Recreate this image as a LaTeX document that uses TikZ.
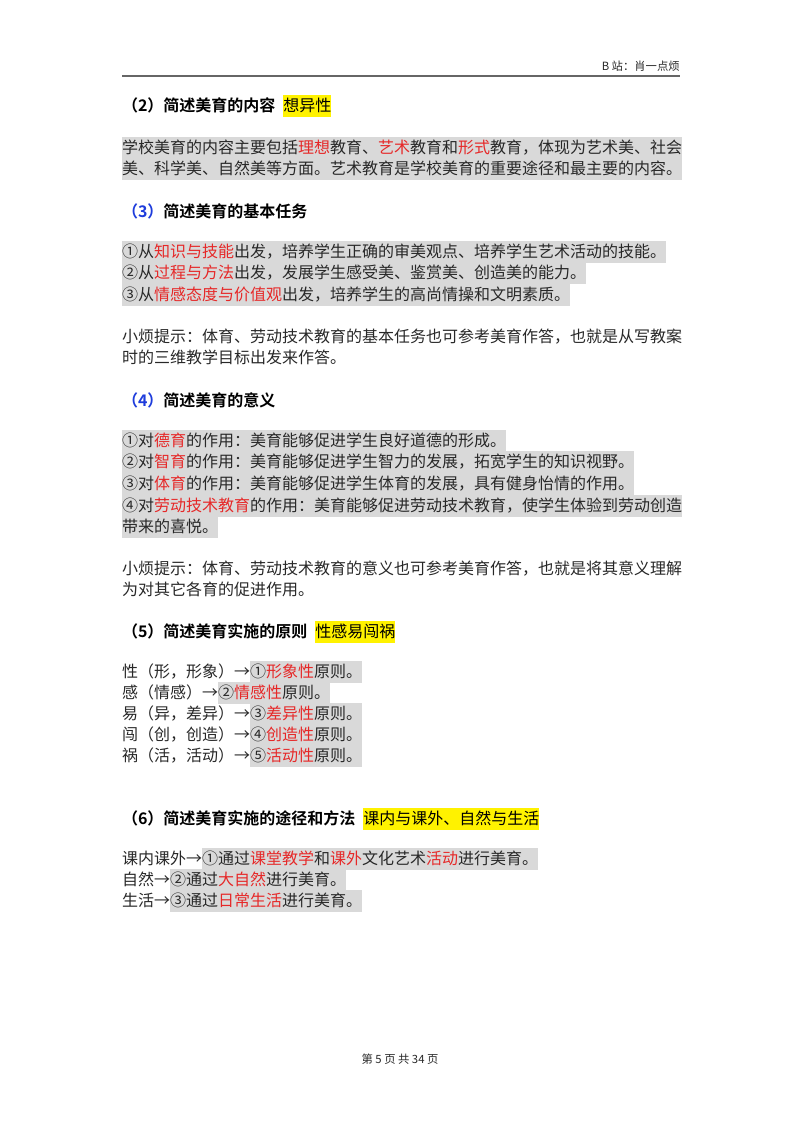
\documentclass[tikz,border=0pt]{standalone}
\usepackage{fontspec}
\setmainfont{Noto Sans CJK SC}[BoldFont={Noto Sans CJK SC Bold}]
\definecolor{hl}{RGB}{217,217,217}
\definecolor{rd}{RGB}{230,40,40}
\definecolor{bl}{RGB}{30,60,220}
\definecolor{txt}{RGB}{40,40,40}
\newcommand{\R}[1]{\textcolor{rd}{#1}}
\tikzset{
 ln/.style={anchor=west, inner xsep=0pt, inner ysep=1pt, outer sep=0pt, text height=11pt, text depth=3pt, font=\fontsize{12}{14}\selectfont, text=txt},
 gl/.style={ln, fill=hl},
 hd/.style={ln, font=\fontsize{12}{14}\selectfont\bfseries, text=black},
 yl/.style={ln, fill=yellow, font=\fontsize{12}{14}\selectfont, text=black},
 sm/.style={font=\fontsize{8.5}{10}\selectfont, text=txt, inner sep=0pt}
}
\begin{document}
\begin{tikzpicture}[x=0.75pt,y=-0.75pt]
\useasboundingbox[fill=white] (0,0) rectangle (800,1132);
\node[sm, anchor=east] (hdr) at (680,66) {B 站：肖一点烦};
\draw[gray!80!black, line width=1.2pt] (122,76) coordinate (r1) -- (680,76) coordinate (r2);
% (2)
\node[hd] (h2) at (122,106) {（2）简述美育的内容};
\node[yl] (y2) at ([xshift=6pt]h2.east) {想异性};
\node[gl] (p21) at (122,148) {学校美育的内容主要包括\R{理想}教育、\R{艺术}教育和\R{形式}教育，体现为艺术美、社会};
\node[gl] (p22) at (122,169) {美、科学美、自然美等方面。艺术教育是学校美育的重要途径和最主要的内容。};
% (3)
\node[hd] (h3) at (122,212) {\textcolor{bl}{（3）}简述美育的基本任务};
\node[gl] (p31) at (122,252) {①从\R{知识与技能}出发，培养学生正确的审美观点、培养学生艺术活动的技能。};
\node[gl] (p32) at (122,273) {②从\R{过程与方法}出发，发展学生感受美、鉴赏美、创造美的能力。};
\node[gl] (p33) at (122,295) {③从\R{情感态度与价值观}出发，培养学生的高尚情操和文明素质。};
\node[ln] (t31) at (122,337) {小烦提示：体育、劳动技术教育的基本任务也可参考美育作答，也就是从写教案};
\node[ln] (t32) at (122,358) {时的三维教学目标出发来作答。};
% (4)
\node[hd] (h4) at (122,401) {\textcolor{bl}{（4）}简述美育的意义};
\node[gl] (p41) at (122,441) {①对\R{德育}的作用：美育能够促进学生良好道德的形成。};
\node[gl] (p42) at (122,462) {②对\R{智育}的作用：美育能够促进学生智力的发展，拓宽学生的知识视野。};
\node[gl] (p43) at (122,484) {③对\R{体育}的作用：美育能够促进学生体育的发展，具有健身怡情的作用。};
\node[gl] (p44) at (122,506) {④对\R{劳动技术教育}的作用：美育能够促进劳动技术教育，使学生体验到劳动创造};
\node[gl] (p45) at (122,527) {带来的喜悦。};
\node[ln] (t41) at (122,569) {小烦提示：体育、劳动技术教育的意义也可参考美育作答，也就是将其意义理解};
\node[ln] (t42) at (122,590) {为对其它各育的促进作用。};
% (5)
\node[hd] (h5) at (122,632) {（5）简述美育实施的原则};
\node[yl] (y5) at ([xshift=6pt]h5.east) {性感易闯祸};
\node[ln] (a1) at (122,672) {性（形，形象）→};
\node[gl] (b1) at (a1.east) {①\R{形象性}原则。};
\node[ln] (a2) at (122,693) {感（情感）→};
\node[gl] (b2) at (a2.east) {②\R{情感性}原则。};
\node[ln] (a3) at (122,714) {易（异，差异）→};
\node[gl] (b3) at (a3.east) {③\R{差异性}原则。};
\node[ln] (a4) at (122,735) {闯（创，创造）→};
\node[gl] (b4) at (a4.east) {④\R{创造性}原则。};
\node[ln] (a5) at (122,756) {祸（活，活动）→};
\node[gl] (b5) at (a5.east) {⑤\R{活动性}原则。};
% (6)
\node[hd] (h6) at (122,819) {（6）简述美育实施的途径和方法};
\node[yl] (y6) at ([xshift=6pt]h6.east) {课内与课外、自然与生活};
\node[ln] (c1) at (122,859) {课内课外→};
\node[gl] (d1) at (c1.east) {①通过\R{课堂教学}和\R{课外}文化艺术\R{活动}进行美育。};
\node[ln] (c2) at (122,880) {自然→};
\node[gl] (d2) at (c2.east) {②通过\R{大自然}进行美育。};
\node[ln] (c3) at (122,901) {生活→};
\node[gl] (d3) at (c3.east) {③通过\R{日常生活}进行美育。};
\node[sm] (ft) at (400,1059) {第 5 页 共 34 页};
\end{tikzpicture}
\end{document}
